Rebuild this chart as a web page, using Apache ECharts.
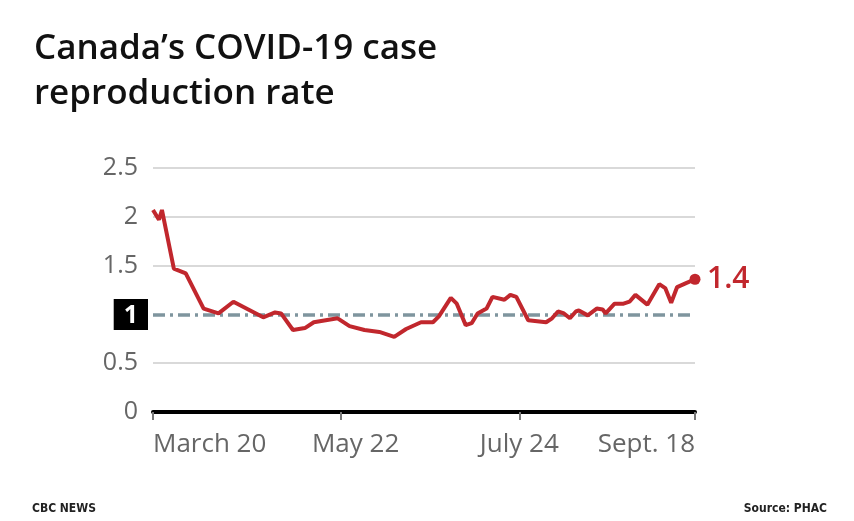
<!DOCTYPE html>
<html>
<head>
<meta charset="utf-8">
<script src="https://cdn.jsdelivr.net/npm/echarts@6/dist/echarts.min.js"></script>
<style>
html,body{margin:0;padding:0;background:#fff;}
#chart{width:854px;height:521px;}
</style>
</head>
<body>
<div id="chart"></div>
<script>
// Days since March 20 and estimated reproduction rate
const days = [0,2,3,7,11,17,22,27,37,41,43,47,51,54,62,66,71,76,81,85,90,94,96,100,102,105,107,109,112,114,118,120,122,126,129,132,134,136,138,140,142,143,146,149,151,152,155,158,160,162,166,170,172,174,176,179,182];
const rValues = [2.07,1.97,2.07,1.47,1.42,1.06,1.01,1.13,0.97,1.02,1.01,0.84,0.86,0.92,0.96,0.88,0.84,0.82,0.77,0.85,0.92,0.92,0.98,1.17,1.11,0.89,0.91,1.01,1.06,1.18,1.15,1.20,1.18,0.94,0.93,0.92,0.96,1.03,1.01,0.96,1.03,1.04,0.99,1.06,1.05,1.01,1.11,1.11,1.13,1.20,1.10,1.31,1.27,1.12,1.28,1.32,1.36];
const tickDays = [0,63,123,182];
const tickLabels = ['March 20','May 22','July 24','Sept. 18'];
const yTicks = [0,0.5,1,1.5,2,2.5];

const FONT = 'Open Sans';
const RED = '#c1272d';
const lineData = days.map((d,i)=>[d,rValues[i]]);
const last = lineData[lineData.length-1];

const chart = echarts.init(document.getElementById('chart'));
chart.setOption({
  animation:false,
  backgroundColor:'#fff',
  textStyle:{fontFamily:FONT},
  title:[
    {text:"Canada’s COVID-19 case\nreproduction rate", left:29, top:22,
     textStyle:{fontFamily:FONT, fontSize:35, fontWeight:600, color:'#111', lineHeight:45}},
    {text:'CBC NEWS', left:27, top:498, textStyle:{fontFamily:'DejaVu Sans Condensed', fontSize:12, fontWeight:'bold', color:'#222'}},
    {text:'Source: PHAC', right:22, top:498, textStyle:{fontFamily:'DejaVu Sans Condensed', fontSize:12, fontWeight:'bold', color:'#222'}}
  ],
  grid:{left:153, right:159, top:168, bottom:109, containLabel:false},
  xAxis:{
    type:'value', min:0, max:182,
    axisLine:{show:true, lineStyle:{color:'#000', width:4}},
    axisTick:{show:true, customValues:tickDays, length:8, lineStyle:{color:'#777', width:2}},
    axisLabel:{show:true, customValues:tickDays, margin:20, color:'#666', fontSize:26, fontFamily:FONT,
      alignMinLabel:'left', alignMaxLabel:'right',
      formatter:v=>{const i=tickDays.indexOf(v); if(i<0) return ''; return i===1 ? '{m|'+tickLabels[i]+'}' : tickLabels[i];},
      rich:{m:{color:'#666', fontSize:26, fontFamily:FONT, padding:[0,0,0,30]}}},
    splitLine:{show:false}
  },
  yAxis:{
    type:'value', min:0, max:2.5, interval:0.5,
    axisLine:{show:false}, axisTick:{show:false},
    axisLabel:{margin:5, color:'#666', fontSize:25, fontFamily:FONT,
      formatter:v=> v===1 ? '{b|1}' : '{n|'+v+'}',
      rich:{
        n:{color:'#666', fontSize:25, fontFamily:FONT, padding:[0,10,0,0]},
        b:{backgroundColor:'#000', color:'#fff', fontWeight:'bold', fontSize:25, fontFamily:FONT, padding:[4,10,2,10]}}},
    splitLine:{show:true, lineStyle:{color:['#ccc','#ccc','rgba(0,0,0,0)','#ccc','#ccc','#ccc'], width:1.5}}
  },
  series:[
    {
      type:'line', data:lineData, symbol:'none', smooth:false,
      lineStyle:{color:RED, width:4},
      endLabel:{show:true, formatter:p=>p.value[1].toFixed(1), color:RED, fontSize:30, fontWeight:600, fontFamily:FONT, distance:12},
      markLine:{silent:true, symbol:'none', label:{show:false},
        lineStyle:{color:'#7f959e', width:3.5, type:[12,5,3,5], cap:'butt'},
        data:[{yAxis:1}], z:1},
      z:3
    },
    {
      type:'scatter', data:[last], symbol:'circle', symbolSize:11,
      itemStyle:{color:RED, opacity:1}, z:4
    }
  ]
});
</script>
</body>
</html>
